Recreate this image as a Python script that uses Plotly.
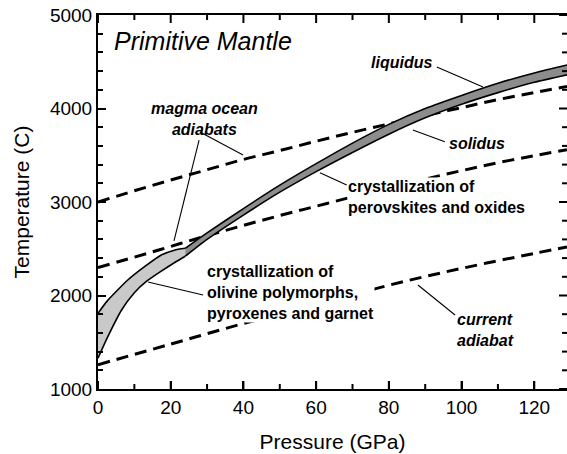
import plotly.graph_objects as go

# ---- data ----
P_adiabat = [0, 10, 20, 30, 40, 50, 60, 70, 80, 90, 100, 110, 120, 129]
magma_upper = [3000, 3120, 3235, 3345, 3455, 3550, 3650, 3745, 3835, 3925, 4010, 4095, 4170, 4235]
magma_lower = [2300, 2410, 2525, 2640, 2750, 2855, 2955, 3055, 3150, 3245, 3335, 3420, 3495, 3560]
P_current = [0, 20, 40, 60, 80, 100, 120, 129]
current_adiabat = [1260, 1480, 1700, 1900, 2110, 2290, 2450, 2520]

# low-pressure melting interval (olivine polymorphs, pyroxenes, garnet)
P_liq1 = [0, 2.5, 5.4, 8.2, 12.8, 17.4, 21, 24]
liquidus1 = [1810, 1940, 2059, 2166, 2308, 2433, 2485, 2505]
P_sol1 = [0, 2.7, 6.4, 10, 13.3, 17.4, 21, 24]
solidus1 = [1330, 1560, 1840, 2030, 2150, 2260, 2350, 2420]

# high-pressure melting interval (perovskites and oxides)
P_hp = [24, 30, 40, 50, 60, 70, 80, 90, 100, 110, 120, 129]
liquidus2 = [2505, 2670, 2930, 3180, 3410, 3630, 3830, 4000, 4140, 4270, 4380, 4465]
solidus2 = [2420, 2600, 2860, 3105, 3325, 3530, 3725, 3900, 4045, 4170, 4280, 4360]

# axis ticks
x_ticks = [0, 20, 40, 60, 80, 100, 120]
x_minor_ticks = [10, 30, 50, 70, 90, 110]
y_ticks = [1000, 2000, 3000, 4000, 5000]
y_minor_ticks = [v for v in range(1200, 5000, 200) if v % 1000 != 0]
X_RANGE = [0, 129]
Y_RANGE = [1000, 5000]

FONT = "Liberation Sans, Arial, sans-serif"

W, H = 567, 454
M_L, M_R, M_T, M_B = 98, 0, 15, 65
PLOT_W = W - M_L - M_R
PLOT_H = H - M_T - M_B
MAJOR_LEN, MINOR_LEN = 8, 5

fig = go.Figure()

dash_style = dict(color="black", width=3, dash="12px,7px")
fig.add_trace(go.Scatter(x=P_adiabat, y=magma_upper, mode="lines", line=dict(shape="spline", **dash_style)))
fig.add_trace(go.Scatter(x=P_adiabat, y=magma_lower, mode="lines", line=dict(shape="spline", **dash_style)))
fig.add_trace(go.Scatter(x=P_current, y=current_adiabat, mode="lines", line=dict(shape="spline", **dash_style)))

edge = dict(color="black", width=1.6, shape="spline", smoothing=0.6)
fig.add_trace(go.Scatter(x=P_sol1, y=solidus1, mode="lines", line=edge))
fig.add_trace(go.Scatter(x=P_liq1, y=liquidus1, mode="lines", line=edge,
                         fill="tonexty", fillcolor="#c9c9c9"))
fig.add_trace(go.Scatter(x=P_hp, y=solidus2, mode="lines", line=edge))
fig.add_trace(go.Scatter(x=P_hp, y=liquidus2, mode="lines", line=edge,
                         fill="tonexty", fillcolor="#8c8c8c"))

# pointer lines (data coords)
pointers = [
    ((93.2, 4444), (105.9, 4230)),   # liquidus
    ((86.6, 3770), (95.4, 3645)),    # solidus
    ((28.05, 3749), (39.9, 3503)),   # magma ocean -> upper
    ((27.8, 3663), (20.9, 2583)),    # magma ocean -> lower
    ((61.05, 3313), (68.4, 3182)),   # perovskites
    ((13.75, 2144), (28.9, 2005)),   # olivine
    ((88.0, 2112), (98.2, 1791)),    # current adiabat
]
shapes = []
for (x0, y0), (x1, y1) in pointers:
    shapes.append(dict(type="line", xref="x", yref="y", x0=x0, y0=y0, x1=x1, y1=y1,
                       line=dict(color="black", width=1.1), layer="above"))

# inward tick marks on bottom, top and right edges, placed through the axis scales
tick_line = dict(color="black", width=2)
for vals, length in ((x_ticks, MAJOR_LEN), (x_minor_ticks, MINOR_LEN)):
    f = length / PLOT_H
    for v in vals:
        shapes.append(dict(type="line", xref="x", yref="paper", x0=v, x1=v, y0=0, y1=f,
                           line=tick_line, layer="above"))
        shapes.append(dict(type="line", xref="x", yref="paper", x0=v, x1=v, y0=1, y1=1 - f,
                           line=tick_line, layer="above"))
for vals, length in ((y_ticks, MAJOR_LEN), (y_minor_ticks, MINOR_LEN)):
    f = length / PLOT_W
    for v in vals:
        shapes.append(dict(type="line", xref="paper", yref="y", x0=1, x1=1 - f, y0=v, y1=v,
                           line=tick_line, layer="above"))

ann = []
def add_text(x, y, text, size=16, xanchor="left", align="left", bg=None):
    d = dict(x=x, y=y, xref="x", yref="y", text=text, showarrow=False,
             xanchor=xanchor, yanchor="middle", align=align,
             font=dict(family=FONT, size=size, color="black"))
    if bg:
        d.update(bgcolor=bg, borderpad=0)
    ann.append(d)

add_text(3.9, 4722, "<i>Primitive Mantle</i>", size=25)
add_text(83.5, 4487, "<b><i>liquidus</i></b>", xanchor="center", align="center")
add_text(95.9, 3631, "<b><i>solidus</i></b>")
add_text(29.4, 3893, "<b><i>magma ocean<br>adiabats</i></b>", xanchor="center", align="center")
add_text(68.5, 3053, "<b>crystallization of<br>perovskites and oxides</b>", bg="white")
add_text(29.7, 2027, "<b>crystallization of<br>olivine polymorphs,<br>pyroxenes and garnet</b>", bg="white")
add_text(98.3, 1631, "<b><i>current<br>adiabat</i></b>")

fig.update_layout(
    width=W, height=H,
    margin=dict(l=M_L, r=M_R, t=M_T, b=M_B),
    paper_bgcolor="white", plot_bgcolor="white",
    showlegend=False,
    shapes=shapes, annotations=ann,
    font=dict(family=FONT, color="black"),
    xaxis=dict(
        range=X_RANGE, tickmode="array", tickvals=x_ticks,
        ticks="inside", ticklen=MAJOR_LEN, tickwidth=2, tickcolor="black",
        showline=True, linecolor="black", linewidth=2, mirror=True,
        showgrid=False, zeroline=False,
        tickfont=dict(size=19, family=FONT, color="black"),
        title=dict(text="Pressure (GPa)", font=dict(size=21, family=FONT, color="black"), standoff=18),
    ),
    yaxis=dict(
        range=Y_RANGE, tickmode="array", tickvals=y_ticks,
        ticks="inside", ticklen=MAJOR_LEN, tickwidth=2, tickcolor="black",
        showline=True, linecolor="black", linewidth=2,
        showgrid=False, zeroline=False, automargin=False,
        minor=dict(dtick=200, ticks="inside", ticklen=MINOR_LEN, tickwidth=2, tickcolor="black"),
        tickfont=dict(size=19, family=FONT, color="black"),
        title=dict(text="Temperature (C)", font=dict(size=21, family=FONT, color="black"), standoff=15),
    ),
)

fig.write_html("out.html")
